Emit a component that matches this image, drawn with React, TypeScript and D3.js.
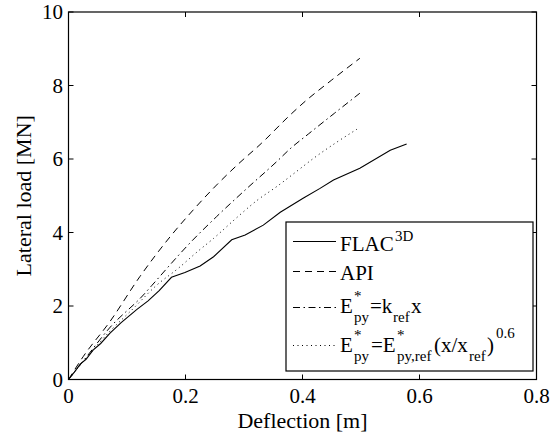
import React from "react";
import * as d3 from "d3";

const W = 552;
const H = 435;

const xTicks = [0, 0.2, 0.4, 0.6, 0.8];
const yTicks = [0, 2, 4, 6, 8, 10];
const xTickLabels = ["0", "0.2", "0.4", "0.6", "0.8"];
const yTickLabels = ["0", "2", "4", "6", "8", "10"];

const flacX = [0, 0.01, 0.02, 0.03, 0.042, 0.055, 0.071, 0.09, 0.117, 0.136, 0.155, 0.176, 0.199, 0.225, 0.248, 0.279, 0.302, 0.333, 0.362, 0.401, 0.43, 0.453, 0.498, 0.55, 0.578];
const flacY = [0, 0.2, 0.42, 0.55, 0.8, 0.98, 1.26, 1.55, 1.91, 2.14, 2.42, 2.78, 2.91, 3.09, 3.34, 3.8, 3.93, 4.2, 4.55, 4.93, 5.2, 5.43, 5.75, 6.24, 6.41];

const apiX = [0, 0.025, 0.071, 0.122, 0.174, 0.213, 0.253, 0.29, 0.33, 0.379, 0.401, 0.45, 0.498];
const apiY = [0, 0.62, 1.58, 2.8, 3.89, 4.61, 5.29, 5.86, 6.43, 7.2, 7.52, 8.15, 8.74];

const krefX = [0, 0.03, 0.07, 0.128, 0.142, 0.191, 0.202, 0.253, 0.305, 0.356, 0.379, 0.41, 0.455, 0.498];
const krefY = [0, 0.6, 1.4, 2.3, 2.55, 3.43, 3.62, 4.43, 5.2, 5.93, 6.28, 6.68, 7.25, 7.79];

const powX = [0, 0.03, 0.07, 0.11, 0.151, 0.188, 0.219, 0.248, 0.288, 0.322, 0.356, 0.393, 0.419, 0.455, 0.493];
const powY = [0, 0.58, 1.3, 1.92, 2.57, 3.03, 3.46, 3.84, 4.41, 4.87, 5.25, 5.7, 6.02, 6.42, 6.81];

const ST = { fontFamily: "Liberation Serif" };

type Piece = { t: string; x: number; dy: number; s: number };

const row3: Piece[] = [
  { t: "E", x: 0, dy: 0, s: 21 },
  { t: "*", x: 14, dy: -12, s: 15 },
  { t: "py", x: 14, dy: 9, s: 15 },
  { t: "=k", x: 30, dy: 0, s: 21 },
  { t: "ref", x: 53, dy: 9, s: 15 },
  { t: "x", x: 71, dy: 0, s: 21 },
];
const row4: Piece[] = [
  { t: "E", x: 0, dy: 0, s: 21 },
  { t: "*", x: 14, dy: -12, s: 15 },
  { t: "py", x: 14, dy: 9, s: 15 },
  { t: "=E", x: 31, dy: 0, s: 21 },
  { t: "*", x: 57, dy: -12, s: 15 },
  { t: "py,ref", x: 57, dy: 9, s: 15 },
  { t: "(x/x", x: 94, dy: 0, s: 21 },
  { t: "ref", x: 129, dy: 9, s: 15 },
  { t: ")", x: 147, dy: 0, s: 21 },
  { t: "0.6", x: 156, dy: -14, s: 15 },
];

export default function App() {
  const x = d3.scaleLinear().domain([0, 0.8]).range([68.5, 536.5]);
  const y = d3.scaleLinear().domain([0, 10]).range([379.5, 12]);

  const mk = (xs: number[], ys: number[], curve: any) =>
    d3
      .line<number>()
      .x((_, i) => x(xs[i]))
      .y((_, i) => y(ys[i]))
      .curve(curve)(xs) || "";

  const x0 = x(0), x1 = x(0.8), y0 = y(0), y1 = y(10);
  const tl = 5;

  const series = [
    { d: mk(flacX, flacY, d3.curveLinear), dash: "none", w: 1.1 },
    { d: mk(apiX, apiY, d3.curveMonotoneX), dash: "7,5", w: 1 },
    { d: mk(krefX, krefY, d3.curveMonotoneX), dash: "7,3.5,1.5,3.5", w: 1 },
    { d: mk(powX, powY, d3.curveMonotoneX), dash: "1,3.5", w: 1 },
  ];

  const lx0 = 293, lx1 = 336, tx = 340;
  const legRows = [
    { ly: 241.5, b: 250.7 },
    { ly: 271.5, b: 280 },
    { ly: 307.5, b: 313.3 },
    { ly: 345.5, b: 351.7 },
  ];

  const renderPieces = (pcs: Piece[], b: number) =>
    pcs.map((p, i) => (
      <text key={i} x={tx + p.x} y={b + p.dy} fontSize={p.s} style={ST} fill="#000">
        {p.t}
      </text>
    ));

  return (
    <svg width={W} height={H} style={{ position: "absolute", left: 0, top: 0, background: "#fff" }}>
      <rect x={0} y={0} width={W} height={H} fill="#fff" />
      {series.map((s, i) => (
        <path key={i} d={s.d} fill="none" stroke="#000" strokeWidth={s.w} strokeDasharray={s.dash} />
      ))}
      <rect x={x0} y={y1} width={x1 - x0} height={y0 - y1} fill="none" stroke="#000" strokeWidth={1.2} />
      {xTicks.map((t, i) => (
        <g key={"xt" + i}>
          <line x1={x(t)} x2={x(t)} y1={y0} y2={y0 - tl} stroke="#000" />
          <line x1={x(t)} x2={x(t)} y1={y1} y2={y1 + tl} stroke="#000" />
          <text x={x(t)} y={403} textAnchor="middle" fontSize={21} style={ST}>
            {xTickLabels[i]}
          </text>
        </g>
      ))}
      {yTicks.map((t, i) => (
        <g key={"yt" + i}>
          <line x1={x0} x2={x0 + tl} y1={y(t)} y2={y(t)} stroke="#000" />
          <line x1={x1} x2={x1 - tl} y1={y(t)} y2={y(t)} stroke="#000" />
          <text x={63} y={y(t) + 7} textAnchor="end" fontSize={21} style={ST}>
            {yTickLabels[i]}
          </text>
        </g>
      ))}
      <text x={(x0 + x1) / 2} y={428} textAnchor="middle" fontSize={22} style={ST}>
        Deflection [m]
      </text>
      <text transform={`translate(31,${(y0 + y1) / 2}) rotate(-90)`} textAnchor="middle" fontSize={22} style={ST}>
        Lateral load [MN]
      </text>
      <rect x={286} y={222} width={247} height={149} fill="#fff" stroke="#000" strokeWidth={1.2} />
      {series.map((s, i) => (
        <line key={"ll" + i} x1={lx0} x2={lx1} y1={legRows[i].ly} y2={legRows[i].ly} stroke="#000" strokeWidth={s.w} strokeDasharray={s.dash} />
      ))}
      <text x={tx} y={legRows[0].b} fontSize={21} style={ST}>
        FLAC
      </text>
      <text x={tx + 55} y={legRows[0].b - 10} fontSize={15} style={ST}>
        3D
      </text>
      <text x={tx} y={legRows[1].b} fontSize={21} style={ST}>
        API
      </text>
      {renderPieces(row3, legRows[2].b)}
      {renderPieces(row4, legRows[3].b)}
    </svg>
  );
}
